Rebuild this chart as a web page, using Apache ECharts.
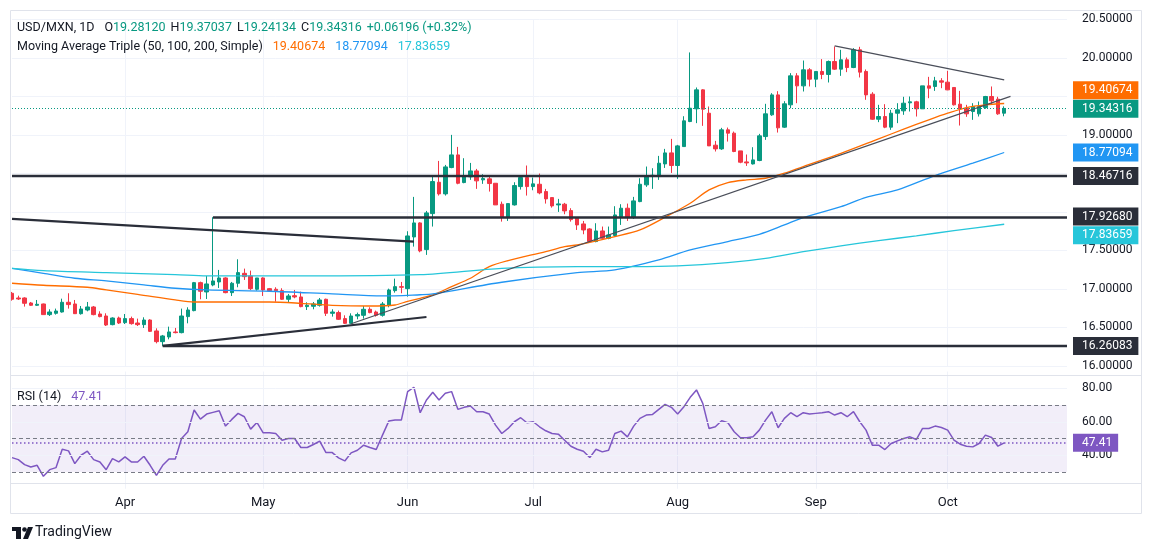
<!DOCTYPE html>
<html>
<head>
<meta charset="UTF-8">
<title>USD/MXN 1D</title>
<script src="https://cdn.jsdelivr.net/npm/echarts@6/dist/echarts.min.js"></script>
</head>
<body style="margin:0;background:#fff">
<div id="chart" style="width:1152px;height:552px"></div>
<script>
// daily bars, 2024-03-06 .. 2024-10-14
var opens = [
  16.944,16.883,16.883,16.818,16.788,16.805,16.667,16.684,16.701,16.827,
  16.805,16.679,16.727,16.766,16.675,16.649,16.537,16.623,16.563,16.615,
  16.558,16.537,16.597,16.455,16.316,16.377,16.442,16.433,16.641,16.719,
  17.082,16.961,17.052,17.091,17.143,16.952,17.074,17.203,17.169,16.996,
  17.143,17.004,16.996,16.978,16.866,16.913,16.896,16.771,16.775,16.788,
  16.866,16.684,16.693,16.615,16.554,16.649,16.658,16.736,16.701,16.658,
  16.788,16.978,17.030,17.004,17.675,17.857,17.511,17.978,18.385,18.234,
  18.576,18.740,18.381,18.455,18.532,18.416,18.429,18.372,18.100,17.926,
  18.091,18.329,18.446,18.329,18.359,18.264,18.186,18.091,18.100,18.017,
  17.918,17.844,17.779,17.615,17.753,17.658,17.693,17.939,18.048,17.926,
  18.134,18.351,18.459,18.459,18.623,18.766,18.602,18.848,19.173,19.338,
  19.584,19.281,18.866,18.818,19.065,19.022,18.792,18.649,18.623,18.667,
  18.978,19.260,19.519,19.100,19.390,19.766,19.636,19.844,19.723,19.823,
  19.784,19.952,19.853,19.974,19.874,20.104,19.823,19.528,19.203,19.238,
  19.100,19.281,19.312,19.416,19.429,19.338,19.636,19.628,19.701,19.684,
  19.615,19.398,19.346,19.303,19.273,19.355,19.498,19.463,19.28120
];
var highs = [
  16.961,16.913,16.892,16.831,16.857,16.810,16.736,16.745,16.874,16.944,
  16.857,16.779,16.831,16.779,16.710,16.684,16.632,16.641,16.675,16.641,
  16.615,16.632,16.606,16.489,16.403,16.511,16.494,16.745,16.762,17.091,
  17.095,17.169,17.931,17.247,17.152,17.091,17.385,17.264,17.238,17.143,
  17.152,17.013,17.022,17.009,16.935,16.987,16.965,16.827,16.831,16.883,
  16.874,16.736,16.719,16.658,16.684,16.693,16.779,16.762,16.719,16.831,
  17.004,17.134,17.091,17.749,18.195,17.866,18.013,18.459,18.662,18.610,
  19.000,18.844,18.697,18.636,18.558,18.489,18.463,18.372,18.134,18.108,
  18.385,18.472,18.602,18.446,18.498,18.299,18.186,18.169,18.117,18.048,
  17.918,17.883,17.788,17.853,17.810,17.810,18.074,18.100,18.108,18.195,
  18.437,18.589,18.567,18.727,18.818,18.948,18.870,19.242,20.070,19.615,
  19.593,19.368,18.922,19.091,19.095,19.043,18.792,18.745,18.840,19.013,
  19.403,19.541,19.567,19.437,19.801,19.801,19.965,19.866,19.823,19.983,
  19.965,20.147,20.104,20.004,20.126,20.143,19.849,19.554,19.390,19.398,
  19.325,19.411,19.494,19.498,19.442,19.636,19.753,19.753,19.736,19.831,
  19.615,19.571,19.390,19.411,19.433,19.506,19.628,19.494,19.37037
];
var lows = [
  16.848,16.857,16.771,16.779,16.779,16.665,16.649,16.667,16.693,16.745,
  16.675,16.667,16.710,16.658,16.632,16.519,16.528,16.545,16.545,16.537,
  16.519,16.494,16.442,16.294,16.261,16.346,16.424,16.424,16.554,16.710,
  16.866,16.870,17.035,17.013,16.944,16.909,17.022,17.117,16.987,16.978,
  16.909,16.970,16.835,16.857,16.831,16.879,16.762,16.727,16.736,16.771,
  16.649,16.641,16.597,16.545,16.545,16.606,16.615,16.684,16.641,16.641,
  16.762,16.952,16.944,16.900,17.550,17.476,17.442,17.810,18.212,18.212,
  18.567,18.359,18.372,18.416,18.299,18.364,18.264,18.091,17.874,17.883,
  18.082,18.290,18.212,18.281,18.229,18.108,18.056,18.000,17.970,17.874,
  17.766,17.710,17.606,17.606,17.636,17.645,17.680,17.831,17.883,17.909,
  18.126,18.325,18.299,18.416,18.571,18.506,18.429,18.848,19.165,19.152,
  19.117,18.857,18.784,18.805,18.913,18.775,18.632,18.597,18.615,18.658,
  18.935,19.247,19.030,19.091,19.346,19.411,19.563,19.628,19.619,19.723,
  19.680,19.844,19.766,19.814,19.866,19.745,19.455,19.195,19.165,19.087,
  19.065,19.152,19.260,19.303,19.238,19.338,19.476,19.571,19.606,19.580,
  19.381,19.121,19.234,19.195,19.238,19.338,19.390,19.260,19.24134
];
var closes = [
  16.866,16.870,16.814,16.788,16.801,16.667,16.701,16.714,16.827,16.797,
  16.679,16.740,16.766,16.667,16.641,16.532,16.623,16.558,16.615,16.550,
  16.537,16.597,16.450,16.316,16.390,16.442,16.433,16.649,16.727,17.082,
  16.970,17.065,17.104,17.143,16.952,17.074,17.212,17.160,17.004,17.143,
  16.987,16.978,16.978,16.866,16.909,16.896,16.771,16.788,16.805,16.857,
  16.684,16.701,16.606,16.554,16.649,16.667,16.736,16.693,16.658,16.805,
  16.987,17.030,17.022,17.688,17.857,17.494,17.987,18.394,18.234,18.584,
  18.740,18.372,18.468,18.532,18.403,18.433,18.368,18.091,17.935,18.108,
  18.342,18.446,18.329,18.364,18.247,18.169,18.078,18.104,18.013,17.900,
  17.831,17.766,17.615,17.753,17.658,17.701,17.961,18.048,17.926,18.143,
  18.359,18.455,18.476,18.632,18.766,18.602,18.857,19.182,19.346,19.584,
  19.333,18.857,18.818,19.065,19.022,18.784,18.645,18.636,18.675,18.987,
  19.273,19.519,19.091,19.403,19.766,19.636,19.844,19.723,19.823,19.784,
  19.952,19.853,19.974,19.874,20.104,19.814,19.519,19.203,19.238,19.100,
  19.281,19.325,19.411,19.429,19.338,19.636,19.606,19.701,19.684,19.584,
  19.390,19.338,19.273,19.368,19.368,19.498,19.442,19.273,19.34316
];
var rsiValues = [
  38.6,37.4,34.4,33,34,27.4,31.4,32.6,43.6,42.6,
  35,40,42.4,37.4,36,31.4,38,36,39,36,
  36,39.4,34,28,34,37.8,37.8,50,54,67,
  61.6,64.6,65.6,66.6,57.4,61.4,65,63,55.6,59.6,
  53.4,53.4,53,49,50,50,44.6,44.6,46.4,48.4,
  41.6,41.6,38.4,36.6,41.4,43,46,44.6,43.4,52,
  60.4,61,61,78,80.6,65.4,73,77.6,73,77,
  78,67.4,68.6,69.4,66,66,64.6,58,53,56,
  60,62.4,59.4,60,57,54.6,53,52.6,49,45.4,
  43.6,42.4,38.6,43.6,42,43,53,54.4,51,57.4,
  62,64,64.4,67.4,70.4,68.6,64.6,69,74.6,79,
  71,56,57,60.6,59.4,54,50.4,50.4,51,55,
  61,66,56.4,62,65.4,63,65.4,64.6,65,65.4,
  66,64,65.4,63,66,60,55,46,46,43.4,
  47,48.6,50,51,49.4,56,56,57.4,56.6,55,
  49,46.6,45.4,45,47,52,50.6,45.4,47.41
];
// moving averages read at points along the lines: [bar index, value]
var ma50Pts = [[0,17.074],[5,17.048],[12,17.022],[15,16.987],[20,16.930],[26,16.857],[29,16.831],[41,16.831],
  [46,16.814],[51,16.788],[57,16.779],[61,16.792],[63,16.840],[65,16.879],[67,16.922],[70,17.030],[73,17.139],
  [76,17.290],[79,17.368],[85,17.485],[88,17.550],[90,17.571],[96,17.680],[100,17.766],[104,17.931],[108,18.113],
  [111,18.286],[114,18.381],[117,18.416],[120,18.437],[123,18.502],[126,18.589],[132,18.760],[138,18.948],
  [142,19.074],[146,19.195],[149,19.281],[152,19.355],[155,19.390],[158,19.407]];
var ma100Pts = [[0,17.268],[5,17.203],[10,17.139],[15,17.104],[21,17.052],[26,17.009],[31,16.987],[41,16.970],
  [51,16.935],[59,16.909],[65,16.925],[67,16.935],[78,17.087],[90,17.212],[96,17.247],[103,17.377],[108,17.506],
  [114,17.615],[119,17.710],[123,17.831],[126,17.926],[132,18.069],[136,18.190],[141,18.286],[147,18.472],
  [153,18.632],[158,18.771]];
var ma200Pts = [[0,17.268],[5,17.238],[15,17.212],[26,17.186],[31,17.169],[46,17.169],[65,17.186],[78,17.268],
  [90,17.290],[99,17.290],[106,17.299],[114,17.342],[120,17.398],[126,17.485],[132,17.558],[138,17.628],
  [144,17.688],[150,17.758],[158,17.840]];
var maLast = [19.40674, 18.77094, 17.83659];
var maColors = ['#FF6D00', '#2196F3', '#26C6DA'];
var lastBar = [19.28120, 19.37037, 19.24134, 19.34316];
var lastChange = [0.06196, 0.32];
var rsiLast = 47.41;
// horizontal rays: level, starting bar
var rayLevels = [18.46716, 17.92680, 16.26083];
var rayStarts = [0, 32, 24];
// drawn trend lines: [[bar, price], [bar, price]]
var thickLines = [[[0,17.910],[64,17.615]], [[24,16.261],[66,16.636]]];
var thinLines = [[[54,16.548],[159,19.500]], [[131,20.156],[158,19.714]]];
var monthNames = ['Jan','Feb','Mar','Apr','May','Jun','Jul','Aug','Sep','Oct','Nov','Dec'];
var extraBars = 10;

// weekday calendar for the category axis
var dates = [];
var d = new Date(Date.UTC(2024, 2, 6));
while (dates.length < opens.length + extraBars) {
  var wd = d.getUTCDay();
  if (wd !== 0 && wd !== 6) dates.push(d.toISOString().slice(0, 10));
  d.setUTCDate(d.getUTCDate() + 1);
}
var monthStart = {};
for (var i = 1; i < dates.length; i++) {
  if (dates[i].slice(5, 7) !== dates[i - 1].slice(5, 7)) monthStart[i] = monthNames[+dates[i].slice(5, 7) - 1];
}
var lastIdx = dates.length - 1;

var candles = opens.map(function (o, i) { return [o, closes[i], lows[i], highs[i]]; });

var FONT = 'Roboto, "Noto Sans", sans-serif';
var boxLabel = function (bg, text, dy) {
  return {
    show: true, position: 'end', distance: 6, formatter: text,
    backgroundColor: bg, color: '#fff', fontSize: 12, fontFamily: FONT,
    padding: [3, 6, 2, 9], lineHeight: 13, offset: [0, dy || 0]
  };
};
var txt = function (color) { return { color: color, fontSize: 12.5, fontFamily: FONT, fontWeight: 'normal' }; };

var series = [];
series.push({
  type: 'candlestick', name: 'USD/MXN', xAxisIndex: 0, yAxisIndex: 0,
  data: candles, barWidth: 4, clip: false, z: 2,
  itemStyle: { color: '#089981', color0: '#F23645', borderColor: '#089981', borderColor0: '#F23645', borderWidth: 1 },
  markLine: {
    silent: true, symbol: ['none', 'none'], animation: false,
    data: [{ yAxis: lastBar[3], lineStyle: { type: [1, 2], color: '#089981', width: 1 },
             label: boxLabel('#089981', lastBar[3].toFixed(5)) }]
  }
});
[ma50Pts, ma100Pts, ma200Pts].forEach(function (pts, k) {
  var offs = [-13, 0, 11];
  series.push({
    type: 'line', xAxisIndex: 0, yAxisIndex: 0, data: pts, smooth: 0.3,
    showSymbol: false, z: 3, lineStyle: { color: maColors[k], width: 1.3 },
    markLine: {
      silent: true, symbol: ['none', 'none'], animation: false,
      lineStyle: { color: 'rgba(0,0,0,0)', width: 0 },
      data: [{ yAxis: maLast[k], label: boxLabel(maColors[k], maLast[k].toFixed(5), offs[k]) }]
    }
  });
});
rayLevels.forEach(function (lv, k) {
  series.push({
    type: 'line', xAxisIndex: 0, yAxisIndex: 0, z: 4,
    data: [[rayStarts[k], lv], [lastIdx, lv]], showSymbol: false,
    lineStyle: { color: '#2A2E39', width: 2.5 },
    endLabel: { show: true, formatter: lv.toFixed(5), distance: 6, backgroundColor: '#2A2E39',
      color: '#fff', fontSize: 12, fontFamily: FONT, padding: [3, 6, 2, 9], lineHeight: 13,
      offset: [0, k === 1 ? -1 : 0] }
  });
});
thickLines.forEach(function (ln) {
  series.push({ type: 'line', xAxisIndex: 0, yAxisIndex: 0, z: 4, data: ln, showSymbol: false,
    lineStyle: { color: '#2A2E39', width: 2.2 } });
});
thinLines.forEach(function (ln) {
  series.push({ type: 'line', xAxisIndex: 0, yAxisIndex: 0, z: 4, data: ln, showSymbol: false,
    lineStyle: { color: '#4A4E59', width: 1.2 } });
});
var rsiDash = { type: [4, 3], color: '#787B86', width: 1 };
var rsiGrid = { type: 'solid', color: '#F0F3FA', width: 1 };
series.push({
  type: 'line', name: 'RSI', xAxisIndex: 1, yAxisIndex: 1, data: rsiValues,
  showSymbol: false, z: 3, lineStyle: { color: '#7E57C2', width: 1.5 },
  markArea: { silent: true, itemStyle: { color: 'rgba(126,87,194,0.1)' }, data: [[{ yAxis: 30 }, { yAxis: 70 }]] },
  markLine: {
    silent: true, symbol: ['none', 'none'], animation: false, label: { show: false },
    data: [
      { yAxis: 80, lineStyle: rsiGrid }, { yAxis: 60, lineStyle: rsiGrid }, { yAxis: 40, lineStyle: rsiGrid },
      { yAxis: 70, lineStyle: rsiDash }, { yAxis: 50, lineStyle: rsiDash }, { yAxis: 30, lineStyle: rsiDash },
      { yAxis: rsiLast, lineStyle: { type: [1.5, 2.5], color: '#7E57C2', width: 1.5 },
        label: boxLabel('#7E57C2', rsiLast.toFixed(2)) }
    ]
  }
});

var monthSplit = function (idx) { return monthStart[idx] !== undefined; };
var xBase = {
  type: 'category', data: dates, boundaryGap: false,
  axisLine: { show: false }, axisTick: { show: false },
  splitLine: { show: true, interval: monthSplit, lineStyle: { color: '#F0F3FA', width: 1 } }
};
var hidden = { '18.0': 1, '18.5': 1, '19.5': 1 };

var option = {
  backgroundColor: '#fff',
  animation: false,
  title: [
    { left: 17, top: 19, padding: 0,
      text: '{d|USD/MXN, 1D}  {d|O}{g|' + lastBar[0].toFixed(5) + '} {d|H}{g|' + lastBar[1].toFixed(5) +
            '} {d|L}{g|' + lastBar[2].toFixed(5) + '} {d|C}{g|' + lastBar[3].toFixed(5) + '} {g|+' +
            lastChange[0].toFixed(5) + ' (+' + lastChange[1].toFixed(2) + '%)}',
      textStyle: { fontWeight: 'normal', rich: { d: txt('#131722'), g: txt('#089981') } } },
    { left: 17, top: 38, padding: 0,
      text: '{d|Moving Average Triple (50, 100, 200, Simple)}  {o|' + maLast[0].toFixed(5) + '}  {b|' +
            maLast[1].toFixed(5) + '}  {c|' + maLast[2].toFixed(5) + '}',
      textStyle: { fontWeight: 'normal', rich: { d: txt('#131722'), o: txt(maColors[0]), b: txt(maColors[1]), c: txt(maColors[2]) } } },
    { left: 17, top: 388, padding: 0,
      text: '{d|RSI (14)}  {p|' + rsiLast.toFixed(2) + '}',
      textStyle: { fontWeight: 'normal', rich: { d: txt('#131722'), p: txt('#7E57C2') } } }
  ],
  grid: [
    { left: 12, right: 85, top: 19.3, height: 346.7, outerBoundsMode: 'none' },
    { left: 12, right: 85, top: 371.5, height: 117.25, outerBoundsMode: 'none' }
  ],
  xAxis: [
    Object.assign({}, xBase, { gridIndex: 0, axisLabel: { show: false } }),
    Object.assign({}, xBase, { gridIndex: 1,
      axisLabel: { show: true, interval: monthSplit, margin: 7, color: '#131722', fontSize: 13, fontFamily: FONT,
        formatter: function (v, idx) { return monthStart[idx] || ''; } } })
  ],
  yAxis: [
    { type: 'value', gridIndex: 0, position: 'right', min: 16, max: 20.5, interval: 0.5, scale: true,
      axisLine: { show: false }, axisTick: { show: false },
      splitLine: { lineStyle: { color: '#F0F3FA', width: 1 } },
      axisLabel: { margin: 15, color: '#131722', fontSize: 12, fontFamily: FONT,
        formatter: function (v) { return hidden[v.toFixed(1)] ? '' : v.toFixed(5); } } },
    { type: 'value', gridIndex: 1, position: 'right', min: 20, max: 90, interval: 10,
      axisLine: { show: false }, axisTick: { show: false }, splitLine: { show: false },
      axisLabel: { margin: 15, color: '#131722', fontSize: 12, fontFamily: FONT,
        formatter: function (v) { return (v === 40 || v === 60 || v === 80) ? v.toFixed(2) : ''; } } }
  ],
  graphic: [
    { type: 'rect', silent: true, z: 100, shape: { x: 10.5, y: 10.5, width: 1131, height: 503 },
      style: { fill: 'none', stroke: '#E0E3EB', lineWidth: 1 } },
    { type: 'line', silent: true, z: 100, shape: { x1: 10, y1: 375.5, x2: 1142, y2: 375.5 },
      style: { stroke: '#E0E3EB', lineWidth: 1 } },
    { type: 'line', silent: true, z: 100, shape: { x1: 10, y1: 483.5, x2: 1142, y2: 483.5 },
      style: { stroke: '#E0E3EB', lineWidth: 1 } },
    { type: 'rect', silent: true, shape: { x: 12, y: 527, width: 9, height: 4 }, style: { fill: '#131722' } },
    { type: 'rect', silent: true, shape: { x: 16, y: 527, width: 5, height: 12 }, style: { fill: '#131722' } },
    { type: 'circle', silent: true, shape: { cx: 24.5, cy: 529.5, r: 2.3 }, style: { fill: '#131722' } },
    { type: 'polygon', silent: true, shape: { points: [[28, 527], [33, 527], [28, 539], [23, 539]] }, style: { fill: '#131722' } },
    { type: 'text', silent: true, left: 35, top: 525,
      style: { text: 'TradingView', fill: '#131722', font: '14px ' + FONT } }
  ],
  series: series
};

var chart = echarts.init(document.getElementById('chart'), null, { renderer: 'canvas' });
chart.setOption(option);
</script>
</body>
</html>
